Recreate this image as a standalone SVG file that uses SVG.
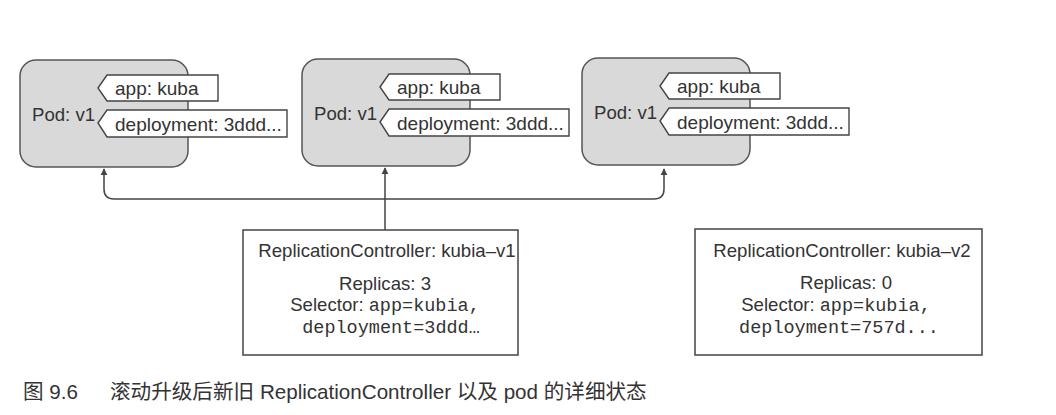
<svg xmlns="http://www.w3.org/2000/svg" width="1056" height="415" viewBox="0 0 1056 415">
  <defs>
    <style>
      .pod { fill: #d9d9d9; stroke: #555; stroke-width: 1.5; }
      .tag { fill: #fff; stroke: #444; stroke-width: 1.4; }
      .rc { fill: #fff; stroke: #444; stroke-width: 1.5; }
      .t { font-family: "Liberation Sans", Arial, sans-serif; font-size: 18.6px; fill: #333; }
      .tg { font-family: "Liberation Sans", Arial, sans-serif; font-size: 19px; fill: #333; }
      .m { font-family: "Liberation Mono", "Courier New", monospace; font-size: 18.5px; fill: #333; }
      .cap { font-family: "Liberation Sans", "Noto Sans CJK SC", sans-serif; font-size: 20.6px; fill: #333; }
      .conn { fill: none; stroke: #444; stroke-width: 1.5; }
    </style>
    <marker id="arr" viewBox="0 0 10 10" refX="9" refY="5" markerWidth="7" markerHeight="9" orient="auto-start-reverse" markerUnits="userSpaceOnUse">
      <path d="M0,0 L10,5 L0,10 z" fill="#444"/>
    </marker>
    <g id="podTpl">
      <rect class="pod" x="0" y="0" width="168" height="107" rx="16" ry="16"/>
      <text class="t" x="12" y="61">Pod: v1</text>
      <polygon class="tag" points="78,28 87,15 198,15 198,41 87,41"/>
      <text class="tg" x="95" y="35">app: kuba</text>
      <polygon class="tag" points="78,63 87,50 267,50 267,77 87,77"/>
      <text class="tg" x="95" y="71">deployment: 3ddd...</text>
    </g>
  </defs>
  <rect width="1056" height="415" fill="#fff"/>

  <g id="connectors">
    <path class="conn" d="M104,169 V189 Q104,199 114,199 H654 Q664,199 664,189 V169" marker-start="url(#arr)" marker-end="url(#arr)"/>
    <path class="conn" d="M385,230 V168" marker-end="url(#arr)"/>
  </g>

  <g id="pod1" transform="translate(20,60)"><use href="#podTpl"/></g>
  <g id="pod2" transform="translate(302,59)"><use href="#podTpl"/></g>
  <g id="pod3" transform="translate(582,58)"><use href="#podTpl"/></g>

  <g id="rc1">
    <rect class="rc" x="243" y="230" width="275" height="125"/>
    <text class="t" x="387" y="257" text-anchor="middle">ReplicationController: kubia–v1</text>
    <text class="t" x="385" y="290" text-anchor="middle">Replicas: 3</text>
    <text x="385" y="311" text-anchor="middle"><tspan class="t">Selector: </tspan><tspan class="m">app=kubia,</tspan></text>
    <text class="m" x="391" y="333" text-anchor="middle">deployment=3ddd…</text>
  </g>

  <g id="rc2">
    <rect class="rc" x="695" y="229" width="287" height="126"/>
    <text class="t" x="842" y="257" text-anchor="middle">ReplicationController: kubia–v2</text>
    <text class="t" x="846" y="289" text-anchor="middle">Replicas: 0</text>
    <text x="836" y="311" text-anchor="middle"><tspan class="t">Selector: </tspan><tspan class="m">app=kubia,</tspan></text>
    <text class="m" x="839" y="333" text-anchor="middle">deployment=757d...</text>
  </g>

  <g id="caption">
    <text class="cap" x="23" y="399">图 9.6</text>
    <text class="cap" x="110" y="399">滚动升级后新旧 ReplicationController 以及 pod 的详细状态</text>
  </g>
</svg>
